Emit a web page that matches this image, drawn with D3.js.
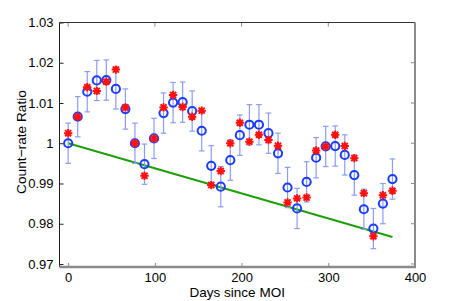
<!DOCTYPE html>
<html>
<head>
<meta charset="utf-8">
<script src="https://cdn.jsdelivr.net/npm/d3@7"></script>
<style>
  body { margin: 0; background: #fff; }
  text { font-family: "Liberation Sans", Arial, sans-serif; fill: #000; }
</style>
</head>
<body>
<div id="chart"></div>
<script>
// days since MOI for every sample
var days = [0, 11, 22, 33, 44, 55, 66, 77, 88, 99, 110, 121, 132, 143, 154, 165, 176, 187,
            198, 209, 220, 231, 242, 253, 264, 275, 286, 297, 308, 319, 330, 341, 352, 363, 374];
// measured ratio (blue circles)
var measured = [1.0000, 1.0066, 1.0128, 1.0156, 1.0157, 1.0135, 1.0085, 1.0000, 0.9948, 1.0012,
                1.0075, 1.0101, 1.0102, 1.0080, 1.0031, 0.9944, 0.9892, 0.9958, 1.0020, 1.0046,
                1.0046, 1.0025, 0.9975, 0.9890, 0.9838, 0.9904, 0.9964, 0.9992, 0.9993, 0.9971,
                0.9921, 0.9836, 0.9788, 0.9850, 0.9911];
// error bar half-height
var errors = [0.005, 0.005, 0.005, 0.005, 0.005, 0.005, 0.005, 0.005, 0.005, 0.005,
              0.005, 0.005, 0.005, 0.005, 0.005, 0.005, 0.005, 0.005, 0.005, 0.005,
              0.005, 0.005, 0.005, 0.005, 0.005, 0.005, 0.005, 0.005, 0.005, 0.005,
              0.005, 0.005, 0.005, 0.005, 0.005];
// model ratio (red asterisks)
var model = [1.0025, 1.0066, 1.0139, 1.0130, 1.0153, 1.0183, 1.0089, 1.0000, 0.9919, 1.0012,
             1.0089, 1.0120, 1.0090, 1.0066, 1.0081, 0.9896, 0.9931, 1.0000, 1.0051, 1.0004,
             1.0021, 1.0008, 0.9994, 0.9853, 0.9863, 0.9865, 0.9982, 0.9992, 1.0021, 0.9993,
             0.9963, 0.9876, 0.9769, 0.9871, 0.9882];
// linear trend (green)
var trendDays = [0, 374];
var trendVals = [1.0000, 0.9767];

var xTicks = [0, 100, 200, 300, 400];
var yTicks = [0.97, 0.98, 0.99, 1, 1.01, 1.02, 1.03];

(function() {
    var width = 458, height = 301;
    var pLeft = 59.5, pRight = 415, pTop = 22.5, pBottom = 267;

    var svg = d3.select("#chart").append("svg")
        .attr("width", width)
        .attr("height", height)

    var x = d3.scaleLinear().domain([-10, 400]).range([pLeft, pRight])
    var y = d3.scaleLinear().domain([0.96925, 1.03]).range([pBottom, pTop])

    var points = days.map(function(d, i) {
        return { day: d, m: measured[i], e: errors[i], s: model[i] }
    })

    var fmtY = function(d) { return d === 1 ? "1" : d3.format(".2f")(d) }

    svg.append("g")
        .attr("transform", "translate(" + pLeft + ",0)")
        .call(d3.axisLeft(y).tickValues(yTicks).tickSize(-4).tickPadding(6).tickFormat(fmtY))
        .call(function(g) {
            g.select(".domain").remove()
            g.selectAll("line").attr("stroke", "#222")
            g.selectAll("text").attr("font-size", 13).attr("font-family", "Liberation Sans, Arial, sans-serif")
        })

    svg.append("g")
        .attr("transform", "translate(0," + pBottom + ")")
        .call(d3.axisBottom(x).tickValues(xTicks).tickSize(-4).tickPadding(6).tickFormat(d3.format("d")))
        .call(function(g) {
            g.select(".domain").remove()
            g.selectAll("line").attr("stroke", "#888")
            g.selectAll("text").attr("font-size", 13).attr("font-family", "Liberation Sans, Arial, sans-serif")
        })

    // top and right ticks
    svg.append("g").selectAll("line")
        .data(xTicks.slice(0, 4))
        .enter().append("line")
        .attr("x1", function(d) { return x(d) })
        .attr("x2", function(d) { return x(d) })
        .attr("y1", pTop)
        .attr("y2", pTop + 4)
        .attr("stroke", "#888")

    svg.append("g").selectAll("line")
        .data(yTicks)
        .enter().append("line")
        .attr("x1", pRight)
        .attr("x2", pRight - 4)
        .attr("y1", function(d) { return y(d) })
        .attr("y2", function(d) { return y(d) })
        .attr("stroke", "#888")

    // box
    svg.append("line").attr("x1", pLeft).attr("x2", pRight).attr("y1", pTop).attr("y2", pTop)
        .attr("stroke", "#333").attr("stroke-width", 1)
    svg.append("line").attr("x1", pLeft).attr("x2", pLeft).attr("y1", pTop).attr("y2", pBottom)
        .attr("stroke", "#222").attr("stroke-width", 1)
    svg.append("line").attr("x1", pRight).attr("x2", pRight).attr("y1", pTop).attr("y2", pBottom + 1)
        .attr("stroke", "#8a8a8a").attr("stroke-width", 2)
    svg.append("line").attr("x1", pLeft).attr("x2", pRight + 1).attr("y1", pBottom).attr("y2", pBottom)
        .attr("stroke", "#8a8a8a").attr("stroke-width", 2.5)

    // trend line
    var line = d3.line()
        .x(function(d) { return x(d[0]) })
        .y(function(d) { return y(d[1]) })

    svg.append("path")
        .datum(trendDays.map(function(d, i) { return [d, trendVals[i]] }))
        .attr("d", line)
        .attr("fill", "none")
        .attr("stroke", "#1f9e0c")
        .attr("stroke-width", 2)

    // error bars
    var bars = svg.append("g")
        .attr("stroke", "#8c9cf5")
        .attr("stroke-width", 1.2)

    bars.selectAll(".v").data(points).enter().append("line")
        .attr("x1", function(d) { return x(d.day) })
        .attr("x2", function(d) { return x(d.day) })
        .attr("y1", function(d) { return y(d.m - d.e) })
        .attr("y2", function(d) { return y(d.m + d.e) })

    bars.selectAll(".t").data(points).enter().append("line")
        .attr("x1", function(d) { return x(d.day) - 2.8 })
        .attr("x2", function(d) { return x(d.day) + 2.8 })
        .attr("y1", function(d) { return y(d.m + d.e) })
        .attr("y2", function(d) { return y(d.m + d.e) })

    bars.selectAll(".b").data(points).enter().append("line")
        .attr("x1", function(d) { return x(d.day) - 2.8 })
        .attr("x2", function(d) { return x(d.day) + 2.8 })
        .attr("y1", function(d) { return y(d.m - d.e) })
        .attr("y2", function(d) { return y(d.m - d.e) })

    // circles
    svg.append("g").selectAll("circle")
        .data(points)
        .enter().append("circle")
        .attr("cx", function(d) { return x(d.day) })
        .attr("cy", function(d) { return y(d.m) })
        .attr("r", 4.1)
        .attr("fill", "none")
        .attr("stroke", "#1a3cff")
        .attr("stroke-width", 2)

    // asterisks
    var r = 4.2
    var star = "M" + (-r) + ",0L" + r + ",0M0," + (-r) + "L0," + r +
        "M" + (-r * 0.72) + "," + (-r * 0.72) + "L" + (r * 0.72) + "," + (r * 0.72) +
        "M" + (-r * 0.72) + "," + (r * 0.72) + "L" + (r * 0.72) + "," + (-r * 0.72)

    svg.append("g").selectAll("path")
        .data(points)
        .enter().append("path")
        .attr("d", star)
        .attr("transform", function(d) { return "translate(" + x(d.day) + "," + y(d.s) + ")" })
        .attr("fill", "none")
        .attr("stroke", "#ff1010")
        .attr("stroke-width", 2)

    // axis labels
    svg.append("text")
        .attr("x", (pLeft + pRight) / 2)
        .attr("y", 297)
        .attr("text-anchor", "middle")
        .attr("font-size", 13.5)
        .text("Days since MOI")

    svg.append("text")
        .attr("transform", "translate(25.5,142) rotate(-90)")
        .attr("text-anchor", "middle")
        .attr("font-size", 13.7)
        .text("Count\u2212rate Ratio")
})();
</script>
</body>
</html>
